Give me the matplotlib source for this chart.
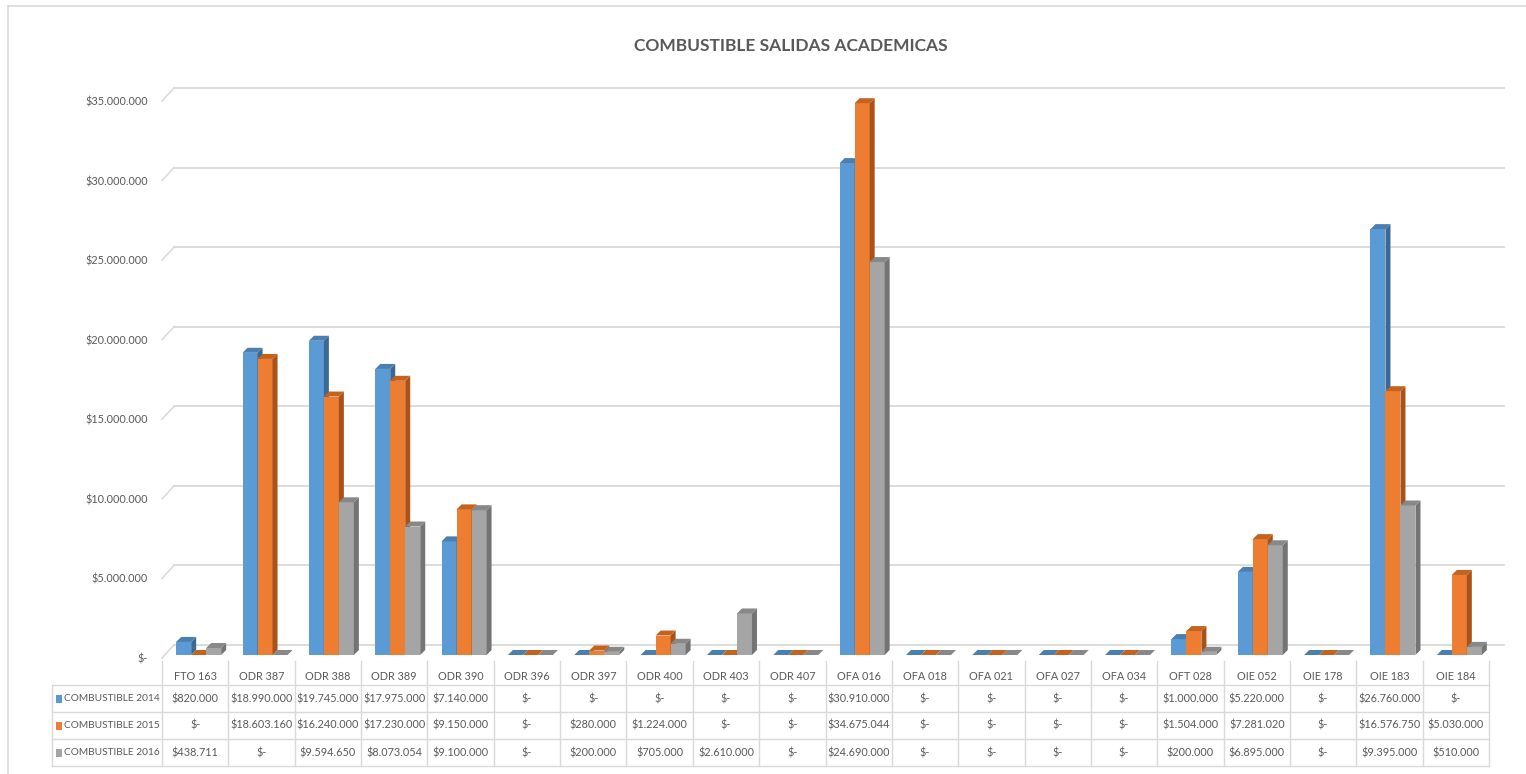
import matplotlib
matplotlib.use("Agg")
import matplotlib.pyplot as plt
import matplotlib.transforms as mtransforms
from matplotlib.patches import Polygon, Rectangle
from matplotlib.lines import Line2D
from matplotlib.ticker import FuncFormatter

categorias = ["FTO 163", "ODR 387", "ODR 388", "ODR 389", "ODR 390", "ODR 396",
              "ODR 397", "ODR 400", "ODR 403", "ODR 407", "OFA 016", "OFA 018",
              "OFA 021", "OFA 027", "OFA 034", "OFT 028", "OIE 052", "OIE 178",
              "OIE 183", "OIE 184"]
comb_2014 = [820000, 18990000, 19745000, 17975000, 7140000, 0, 0, 0, 0, 0,
             30910000, 0, 0, 0, 0, 1000000, 5220000, 0, 26760000, 0]
comb_2015 = [0, 18603160, 16240000, 17230000, 9150000, 0, 280000, 1224000, 0, 0,
             34675044, 0, 0, 0, 0, 1504000, 7281020, 0, 16576750, 5030000]
comb_2016 = [438711, 0, 9594650, 8073054, 9100000, 0, 200000, 705000, 2610000, 0,
             24690000, 0, 0, 0, 0, 200000, 6895000, 0, 9395000, 510000]
nombres = ["COMBUSTIBLE 2014", "COMBUSTIBLE 2015", "COMBUSTIBLE 2016"]
valores = [comb_2014, comb_2015, comb_2016]

colores = ["#5B9BD5", "#ED7D31", "#A5A5A5"]
techo = ["#4A7FB0", "#C4631F", "#888888"]
lado = ["#3C6894", "#A9531A", "#747474"]
TXT = "#595959"
GRID = "#D9D9D9"
TAM = 7.8

plt.rcParams['font.family'] = ["Lato", "DejaVu Sans"]

W, H = 1526, 774
fig = plt.figure(figsize=(W / 100, H / 100), dpi=100)


def fx(x):
    return x / W


def fy(y):
    return 1 - y / H


def pesos(v):
    if v == 0:
        return "$-"
    return "$" + f"{v:,.0f}".replace(",", ".")


# ejes del plano frontal
x_izq, x_der, y_base, y_tope = 162, 1489, 658, 101
ax = fig.add_axes([fx(x_izq), fy(y_base), fx(x_der) - fx(x_izq), fy(y_tope) - fy(y_base)])
n = len(categorias)
ymax = 35e6
ax.set_xlim(-0.5, n - 0.5)
ax.set_ylim(0, ymax)
for s in ax.spines.values():
    s.set_visible(False)
ax.patch.set_alpha(0)

dxp = n / (x_der - x_izq)          # unidades x por pixel
dyp = ymax / (y_base - y_tope)     # unidades y por pixel

ticks = [i * 5e6 for i in range(8)]
ax.set_yticks(ticks)
ax.yaxis.set_major_formatter(FuncFormatter(lambda v, p: pesos(v)))
ax.tick_params(axis="y", length=0, pad=10, labelsize=TAM, labelcolor=TXT)
ax.set_xticks(range(n))
ax.set_xticklabels(categorias)
ax.tick_params(axis="x", length=0, pad=9, labelsize=TAM, labelcolor=TXT)

# pared del fondo: lineas de division desplazadas
fondo_x, fondo_y = 12, 13
for v in ticks:
    ax.plot([-0.5 + fondo_x * dxp, n - 0.5 + (fondo_x + 3) * dxp],
            [v + fondo_y * dyp, v + fondo_y * dyp],
            color=GRID, lw=1.3, zorder=1, clip_on=False)
    ax.plot([-0.5, -0.5 + fondo_x * dxp], [v, v + fondo_y * dyp],
            color=GRID, lw=1.1, zorder=1, clip_on=False)

# columnas 3D
w = 0.226
prof_x, prof_y = 5 * dxp, 5 * dyp
off = mtransforms.ScaledTranslation(0.035, 0.03, fig.dpi_scale_trans)
tr_barra = ax.transData + off
for s, serie in enumerate(valores):
    for i, v in enumerate(serie):
        x0 = i + (s - 1) * w - w / 2
        x1 = x0 + w
        z = 3 + s
        if v > 0:
            ax.add_patch(Rectangle((x0, 0), w, v, facecolor=colores[s],
                                   edgecolor="none", transform=tr_barra, zorder=z, clip_on=False))
            ax.add_patch(Polygon([(x1, 0), (x1, v), (x1 + prof_x, v + prof_y), (x1 + prof_x, prof_y)],
                                 closed=True, facecolor=lado[s], edgecolor="none",
                                 transform=tr_barra, zorder=z, clip_on=False))
        ax.add_patch(Polygon([(x0, v), (x1, v), (x1 + prof_x, v + prof_y), (x0 + prof_x, v + prof_y)],
                             closed=True, facecolor=techo[s], edgecolor="none",
                             transform=tr_barra, zorder=z, clip_on=False))

# tabla de datos
tr_tabla = mtransforms.blended_transform_factory(ax.transData, fig.transFigure)
filas = [685, 712, 739, 766]
for k in range(n + 1):
    fig.add_artist(Line2D([k - 0.5, k - 0.5], [fy(766), fy(661)], color=GRID, lw=1.0,
                          transform=tr_tabla))
fig.add_artist(Line2D([fx(52), fx(52)], [fy(685), fy(766)], color=GRID, lw=1.0))
for yy in filas:
    fig.add_artist(Line2D([fx(52), fx(x_der)], [fy(yy), fy(yy)], color=GRID, lw=1.0))

for r, (nombre, serie) in enumerate(zip(nombres, valores)):
    yc = (filas[r] + filas[r + 1]) / 2
    fig.add_artist(Rectangle((fx(56), fy(yc + 4)), fx(6), 8 / H, facecolor=colores[r],
                             edgecolor="none"))
    fig.text(fx(64), fy(yc), nombre, ha="left", va="center", fontsize=7.3, color=TXT)
    for i, v in enumerate(serie):
        ax.text(i, fy(yc), pesos(v), transform=tr_tabla, ha="center", va="center",
                fontsize=TAM, color=TXT, clip_on=False)

# titulo y borde
fig.text(fx(791), fy(46), "COMBUSTIBLE SALIDAS ACADEMICAS", ha="center", va="center",
         fontsize=12.5, fontweight="bold", color=TXT)
fig.add_artist(Line2D([fx(8), fx(8)], [fy(6), 0], color=GRID, lw=1.2))
fig.add_artist(Line2D([fx(8), 1], [fy(6), fy(6)], color=GRID, lw=1.2))

fig.savefig("out.png", dpi=100)
